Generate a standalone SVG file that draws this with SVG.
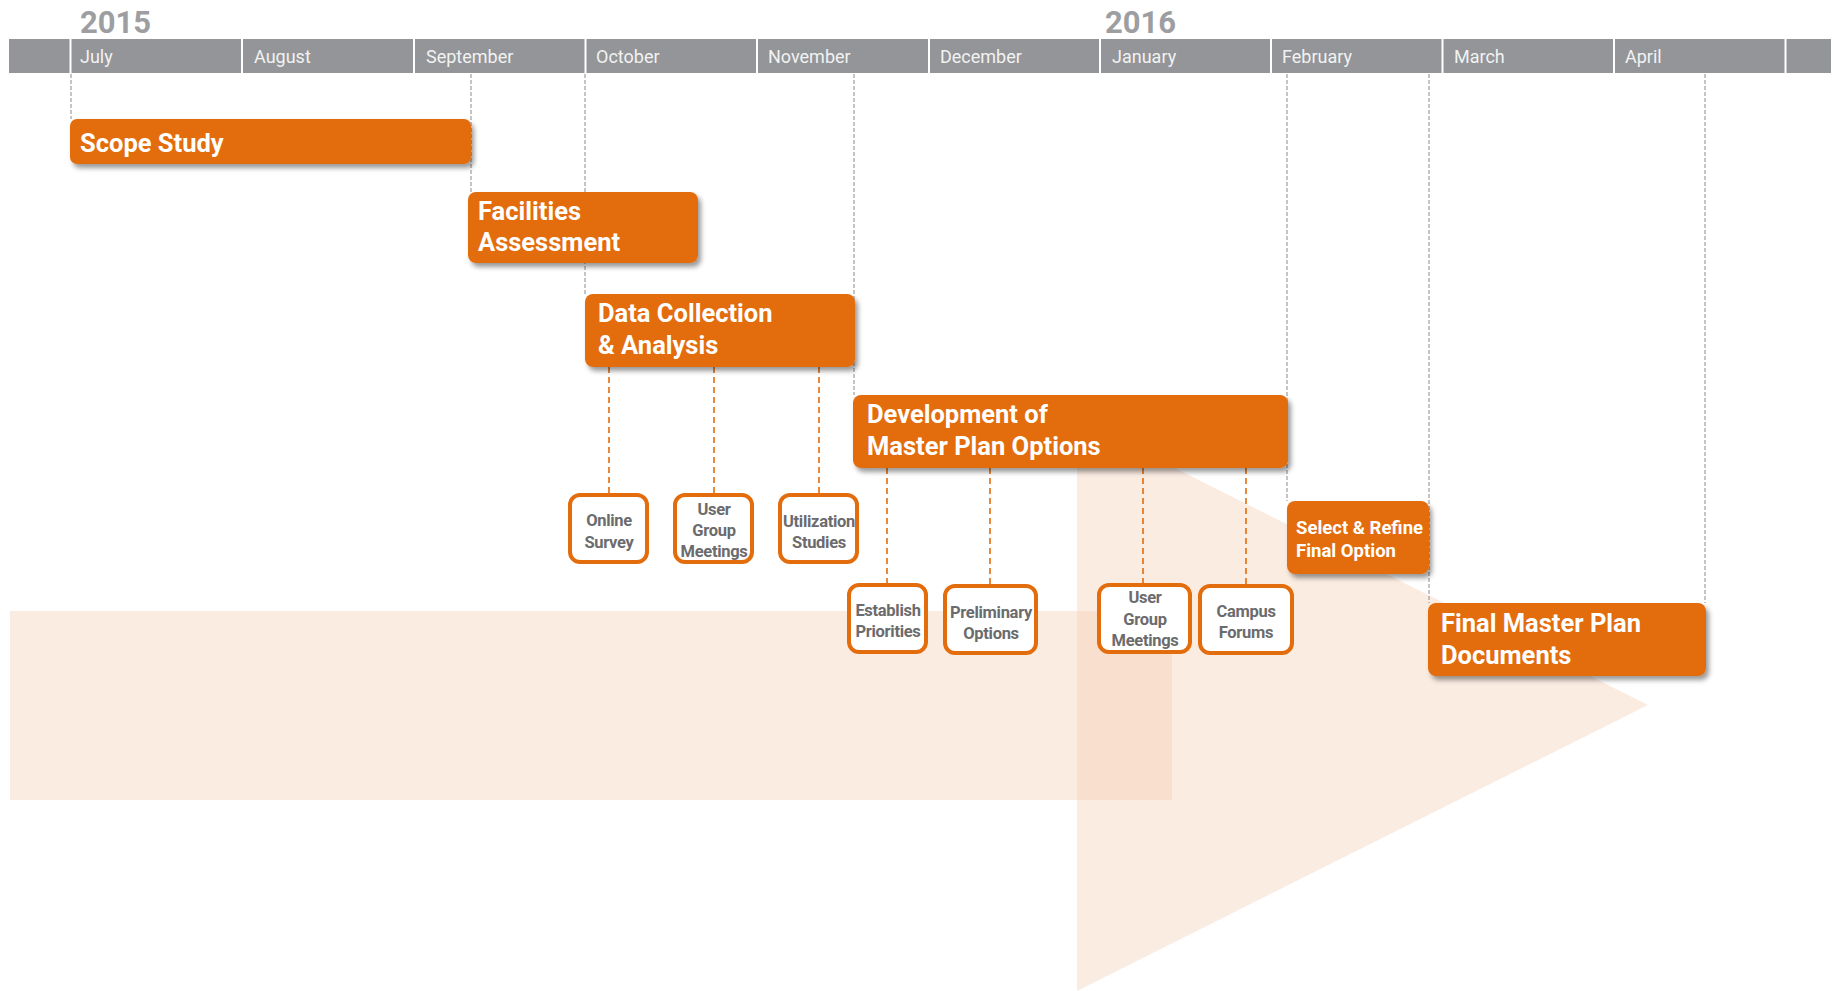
<svg xmlns="http://www.w3.org/2000/svg" width="1843" height="991" viewBox="0 0 1843 991">
<defs>
<filter id="sh" x="-10%" y="-20%" width="130%" height="160%">
<feDropShadow dx="3" dy="4" stdDeviation="2.5" flood-color="#000" flood-opacity="0.4"/>
</filter>
<style>
.bg{fill:#f2c4a5;fill-opacity:0.32}
.hdr{fill:#939598}
.sep{stroke:#fff;stroke-width:2}
.mon{font-family:Roboto,"Liberation Sans",sans-serif;font-size:18px;fill:#f2f2f2}
.yr{font-family:Roboto,"Liberation Sans",sans-serif;font-size:31px;font-weight:bold;fill:#9d9ea1}
.gl{stroke:#8a8a8a;stroke-width:1;stroke-dasharray:4 2;fill:none}
.ol{stroke:#e36c0a;stroke-width:1.6;stroke-dasharray:6 4;fill:none}
.box{fill:#e36c0c;filter:url(#sh)}
.tt{font-family:Roboto,"Liberation Sans",sans-serif;font-size:25.5px;font-weight:bold;fill:#fff}
.ts{font-family:Roboto,"Liberation Sans",sans-serif;font-size:18.5px;font-weight:bold;fill:#fff}
.sb{fill:#fff;stroke:#e36c0c;stroke-width:4}
.st{font-family:Roboto,"Liberation Sans",sans-serif;font-size:16.5px;font-weight:bold;letter-spacing:-0.3px;fill:#6b6b6d;text-anchor:middle}
</style>
</defs>
<rect width="1843" height="991" fill="#fff"/>
<g id="arrow">
<rect class="bg" x="10" y="611" width="1162" height="189"/>
<polygon class="bg" points="1077,419 1077,991 1648,705"/>
</g>
<g id="timeline">
<text class="yr" x="80" y="33">2015</text>
<text class="yr" x="1105" y="33">2016</text>
<rect class="hdr" x="9" y="39" width="1822" height="34"/>
<line class="sep" x1="70.5" y1="39" x2="70.5" y2="73"/>
<line class="sep" x1="242" y1="39" x2="242" y2="73"/>
<line class="sep" x1="414" y1="39" x2="414" y2="73"/>
<line class="sep" x1="585.5" y1="39" x2="585.5" y2="73"/>
<line class="sep" x1="757" y1="39" x2="757" y2="73"/>
<line class="sep" x1="929" y1="39" x2="929" y2="73"/>
<line class="sep" x1="1100" y1="39" x2="1100" y2="73"/>
<line class="sep" x1="1271" y1="39" x2="1271" y2="73"/>
<line class="sep" x1="1442.5" y1="39" x2="1442.5" y2="73"/>
<line class="sep" x1="1614" y1="39" x2="1614" y2="73"/>
<line class="sep" x1="1785.5" y1="39" x2="1785.5" y2="73"/>
<text class="mon" x="80" y="63">July</text>
<text class="mon" x="254" y="63">August</text>
<text class="mon" x="426" y="63">September</text>
<text class="mon" x="596" y="63">October</text>
<text class="mon" x="768" y="63">November</text>
<text class="mon" x="940" y="63">December</text>
<text class="mon" x="1112" y="63">January</text>
<text class="mon" x="1282" y="63">February</text>
<text class="mon" x="1454" y="63">March</text>
<text class="mon" x="1625" y="63">April</text>
</g>
<g id="connectors">
<line class="gl" x1="71" y1="74" x2="71" y2="119"/>
<line class="gl" x1="471" y1="74" x2="471" y2="192"/>
<line class="gl" x1="585" y1="74" x2="585" y2="294"/>
<line class="gl" x1="854" y1="74" x2="854" y2="395"/>
<line class="gl" x1="1287" y1="74" x2="1287" y2="501"/>
<line class="gl" x1="1429" y1="74" x2="1429" y2="603"/>
<line class="gl" x1="1705" y1="74" x2="1705" y2="603"/>
<line class="ol" x1="609" y1="367" x2="609" y2="493"/>
<line class="ol" x1="714" y1="367" x2="714" y2="493"/>
<line class="ol" x1="819" y1="367" x2="819" y2="493"/>
<line class="ol" x1="887" y1="468" x2="887" y2="583"/>
<line class="ol" x1="990" y1="468" x2="990" y2="584"/>
<line class="ol" x1="1143" y1="468" x2="1143" y2="583"/>
<line class="ol" x1="1246" y1="468" x2="1246" y2="584"/>
</g>
<g id="scope-study">
<rect class="box" x="70" y="119" width="401" height="45" rx="7"/>
<text class="tt" x="80" y="152">Scope Study</text>
</g>
<g id="facilities-assessment">
<rect class="box" x="468" y="192" width="230" height="71" rx="8"/>
<text class="tt" x="478" y="220">Facilities</text>
<text class="tt" x="478" y="251">Assessment</text>
</g>
<g id="data-collection">
<rect class="box" x="585" y="294" width="270" height="73" rx="8"/>
<text class="tt" x="598" y="322">Data Collection</text>
<text class="tt" x="598" y="354">&amp; Analysis</text>
</g>
<g id="development">
<rect class="box" x="853" y="395" width="435" height="73" rx="8"/>
<text class="tt" x="867" y="423">Development of</text>
<text class="tt" x="867" y="455">Master Plan Options</text>
</g>
<g id="select-refine">
<rect class="box" x="1287" y="501" width="142" height="73" rx="8"/>
<text class="ts" x="1296" y="534">Select &amp; Refine</text>
<text class="ts" x="1296" y="557">Final Option</text>
</g>
<g id="final-documents">
<rect class="box" x="1428" y="603" width="278" height="73" rx="8"/>
<text class="tt" x="1441" y="632">Final Master Plan</text>
<text class="tt" x="1441" y="664">Documents</text>
</g>
<g id="online-survey">
<rect class="sb" x="570" y="495" width="77" height="67" rx="10"/>
<text class="st" x="609" y="526">Online</text>
<text class="st" x="609" y="548">Survey</text>
</g>
<g id="user-group-1">
<rect class="sb" x="675" y="495" width="77" height="67" rx="10"/>
<text class="st" x="714" y="515">User</text>
<text class="st" x="714" y="536">Group</text>
<text class="st" x="714" y="557">Meetings</text>
</g>
<g id="utilization-studies">
<rect class="sb" x="780" y="495" width="77" height="67" rx="10"/>
<text class="st" x="819" y="527">Utilization</text>
<text class="st" x="819" y="548">Studies</text>
</g>
<g id="establish-priorities">
<rect class="sb" x="849" y="585" width="77" height="67" rx="10"/>
<text class="st" x="888" y="616">Establish</text>
<text class="st" x="888" y="637">Priorities</text>
</g>
<g id="preliminary-options">
<rect class="sb" x="945" y="586" width="91" height="67" rx="10"/>
<text class="st" x="991" y="618">Preliminary</text>
<text class="st" x="991" y="639">Options</text>
</g>
<g id="user-group-2">
<rect class="sb" x="1099" y="585" width="91" height="67" rx="10"/>
<text class="st" x="1145" y="603">User</text>
<text class="st" x="1145" y="625">Group</text>
<text class="st" x="1145" y="646">Meetings</text>
</g>
<g id="campus-forums">
<rect class="sb" x="1200" y="586" width="92" height="67" rx="10"/>
<text class="st" x="1246" y="617">Campus</text>
<text class="st" x="1246" y="638">Forums</text>
</g>
</svg>
